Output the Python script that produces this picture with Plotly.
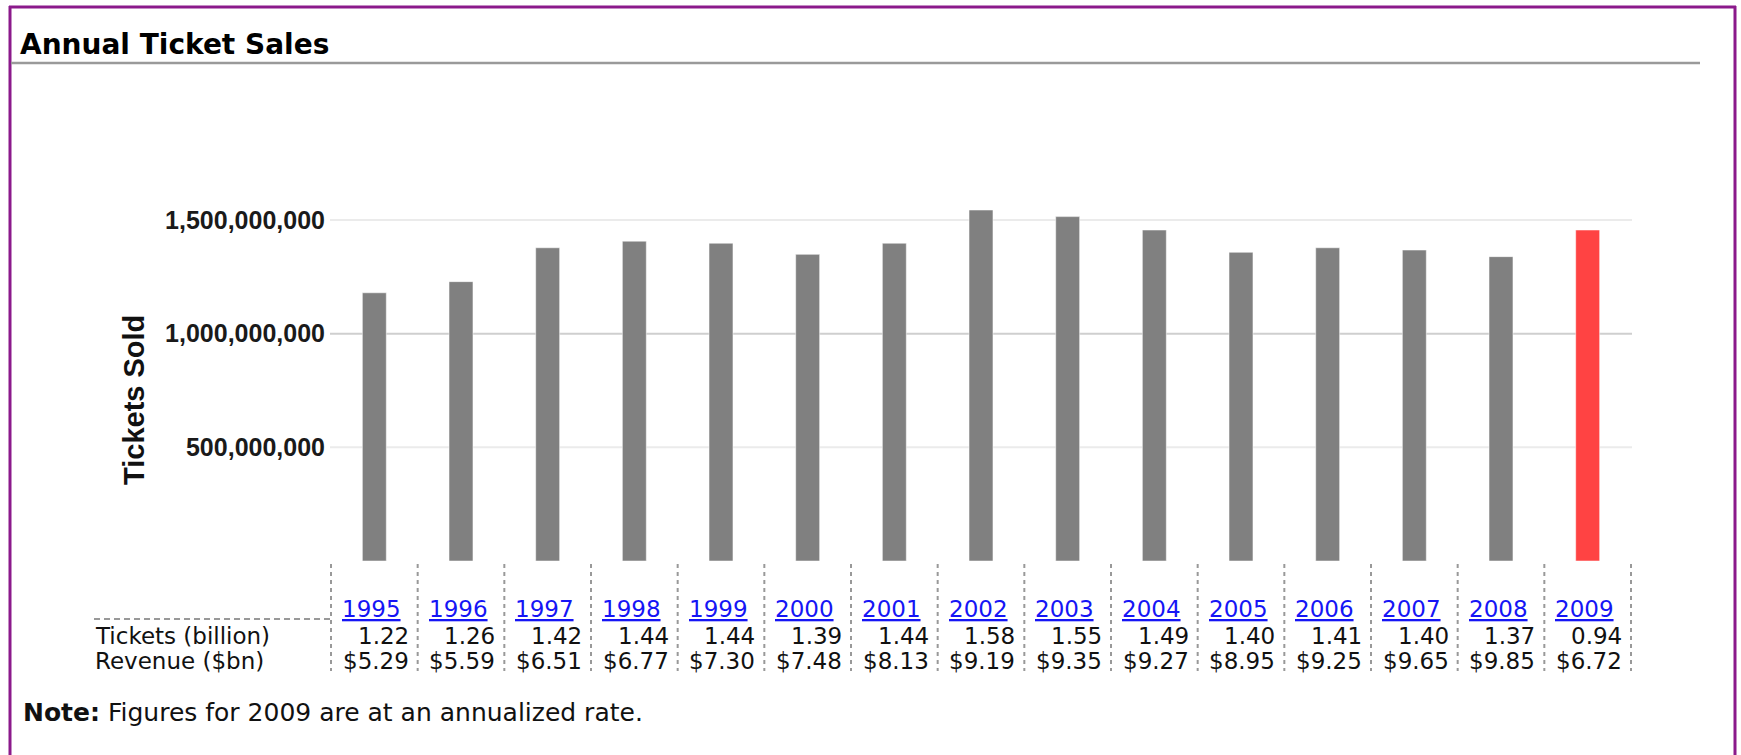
import plotly.graph_objects as go

# ---------------- data ----------------
years = ["1995", "1996", "1997", "1998", "1999", "2000", "2001", "2002",
         "2003", "2004", "2005", "2006", "2007", "2008", "2009"]
tickets_sold = [1.180e9, 1.229e9, 1.378e9, 1.407e9, 1.398e9, 1.349e9, 1.398e9,
                1.544e9, 1.515e9, 1.456e9, 1.358e9, 1.378e9, 1.368e9, 1.339e9, 1.456e9]
tickets_billion = ["1.22", "1.26", "1.42", "1.44", "1.44", "1.39", "1.44", "1.58",
                   "1.55", "1.49", "1.40", "1.41", "1.40", "1.37", "0.94"]
revenue_bn = ["$5.29", "$5.59", "$6.51", "$6.77", "$7.30", "$7.48", "$8.13", "$9.19",
              "$9.35", "$9.27", "$8.95", "$9.25", "$9.65", "$9.85", "$6.72"]
y_ticks = [500_000_000, 1_000_000_000, 1_500_000_000]
row_labels = ["Tickets (billion)", "Revenue ($bn)"]
highlight_year = "2009"
title_text = "Annual Ticket Sales"
note_text = "<b>Note:</b> Figures for 2009 are at an annualized rate."

# ---------------- layout helpers ----------------
W, H = 1741, 755
def px(x):
    return x / W
def py(y):
    return 1 - y / H

TABLE_FONT = "DejaVu Sans"
ARIAL = "Liberation Sans, Arial"
GRAY = "#808080"
RED = "#ff4343"
PURPLE = "#8b1a8b"
TS = 23  # table font size

colors = [RED if y == highlight_year else GRAY for y in years]

fig = go.Figure()
fig.add_trace(go.Bar(
    x=years, y=tickets_sold, marker_color=colors,
    marker_line_color="rgba(255,255,255,0.5)", marker_line_width=1,
    hoverinfo="skip", showlegend=False,
))

shapes = []
annotations = []

# gridlines (1B line darker)
for v in y_ticks:
    shapes.append(dict(type="line", xref="x domain", yref="y", x0=0, x1=1, y0=v, y1=v,
                       line=dict(color="#cfcfcf" if v == 1_000_000_000 else "#ebebeb", width=2),
                       layer="below"))

# frame: purple border (left, top, right) and grey title rule
shapes.append(dict(type="line", xref="paper", yref="paper", x0=px(10), x1=px(10), y0=py(6), y1=py(760),
                   line=dict(color=PURPLE, width=3)))
shapes.append(dict(type="line", xref="paper", yref="paper", x0=px(9), x1=px(1736), y0=py(7), y1=py(7),
                   line=dict(color=PURPLE, width=3)))
shapes.append(dict(type="line", xref="paper", yref="paper", x0=px(1735), x1=px(1735), y0=py(6), y1=py(760),
                   line=dict(color=PURPLE, width=3)))
shapes.append(dict(type="line", xref="paper", yref="paper", x0=px(11), x1=px(1700), y0=py(63), y1=py(63),
                   line=dict(color="#9a9a9a", width=2.5)))

# table dashed lines
for i in range(len(years) + 1):
    xb = i - 0.5
    shapes.append(dict(type="line", xref="x", yref="paper", x0=xb, x1=xb, y0=py(564), y1=py(671),
                       line=dict(color="#999999", width=2, dash="4px,4px")))
shapes.append(dict(type="line", xref="paper", yref="paper", x0=px(94), x1=px(330), y0=py(619), y1=py(619),
                   line=dict(color="#999999", width=2, dash="6px,4px")))

# year labels (links), ticket and revenue rows
for i, yr in enumerate(years):
    annotations.append(dict(x=i, xref="x", y=py(609), yref="paper", text=f"<u>{yr}</u>",
                            showarrow=False, xanchor="center", yanchor="middle", xshift=-3,
                            font=dict(family=TABLE_FONT, size=TS, color="#1515f5")))
    annotations.append(dict(x=i + 0.5, xref="x", y=py(636), yref="paper", text=tickets_billion[i],
                            showarrow=False, xanchor="right", yanchor="middle", xshift=-7,
                            font=dict(family=TABLE_FONT, size=TS, color="#111111")))
    annotations.append(dict(x=i + 0.5, xref="x", y=py(661), yref="paper", text=revenue_bn[i],
                            showarrow=False, xanchor="right", yanchor="middle", xshift=-7,
                            font=dict(family=TABLE_FONT, size=TS, color="#111111")))

for lbl, yy in zip(row_labels, [636, 661]):
    annotations.append(dict(x=px(93), xref="paper", y=py(yy), yref="paper", text=lbl,
                            showarrow=False, xanchor="left", yanchor="middle",
                            font=dict(family=TABLE_FONT, size=TS, color="#111111")))

# title, note, y-axis title
annotations.append(dict(x=px(18), xref="paper", y=py(44), yref="paper", text=f"<b>{title_text}</b>",
                        showarrow=False, xanchor="left", yanchor="middle",
                        font=dict(family=TABLE_FONT, size=28, color="#000000")))
annotations.append(dict(x=px(21), xref="paper", y=py(712), yref="paper", text=note_text,
                        showarrow=False, xanchor="left", yanchor="middle",
                        font=dict(family=TABLE_FONT, size=25, color="#111111")))
annotations.append(dict(x=px(134), xref="paper", y=py(400), yref="paper", text="<b>Tickets Sold</b>",
                        showarrow=False, xanchor="center", yanchor="middle", textangle=-90,
                        font=dict(family=ARIAL, size=29, color="#111111")))

fig.update_layout(
    width=W, height=H,
    margin=dict(l=0, r=0, t=0, b=0),
    paper_bgcolor="white", plot_bgcolor="white",
    bargap=0.7235,
    showlegend=False,
    shapes=shapes,
    annotations=annotations,
    xaxis=dict(domain=[px(330), px(1632)], showticklabels=False, showgrid=False,
               zeroline=False, showline=False, ticks="", fixedrange=True),
    yaxis=dict(domain=[py(561), py(197.3)], range=[0, 1.6e9], tickvals=y_ticks,
               tickformat=",", showgrid=False, zeroline=False, showline=False, ticks="",
               ticklabelstandoff=4,
               tickfont=dict(family=ARIAL, size=25, color="#1a1a1a", weight="bold"),
               fixedrange=True),
)

fig.write_html("out.html", config={"displayModeBar": False},
               post_script="document.body.style.margin='0';")
